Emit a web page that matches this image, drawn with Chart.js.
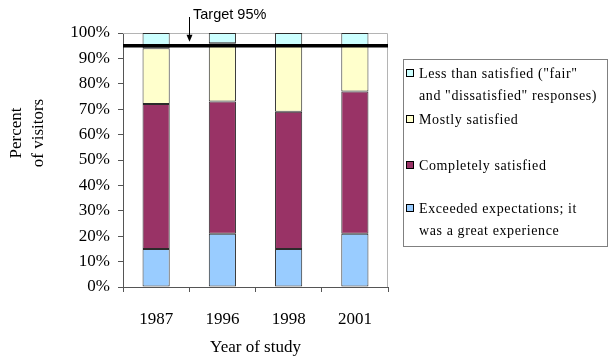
<!DOCTYPE html>
<html>
<head>
<meta charset="utf-8">
<script src="https://cdn.jsdelivr.net/npm/chart.js@4.4.1/dist/chart.umd.min.js"></script>
<style>
  html, body { margin: 0; padding: 0; background: #fff; }
  #wrap { width: 610px; height: 362px; position: relative; }
</style>
</head>
<body>
<div id="wrap"><canvas id="c" width="610" height="362"></canvas></div>
<script>
// Survey years
const years = ['1987', '1996', '1998', '2001'];

// Share of visitors in each response group (percent), bottom of stack first
const exceeded   = [15, 21, 15, 21];
const completely = [57, 52, 54, 56];
const mostly     = [22, 23, 26, 18];
const lessThan   = [6, 4, 5, 5];

// Series names (legend lines)
const seriesNames = [
  ['Exceeded expectations; it', 'was a great experience'],
  ['Completely satisfied'],
  ['Mostly satisfied'],
  ['Less than satisfied ("fair"', 'and "dissatisfied" responses)']
];

// Target share of satisfied visitors
const targetValue = 95;
const targetLabel = 'Target 95%';

// Axis text
const yTicks = [0, 10, 20, 30, 40, 50, 60, 70, 80, 90, 100];
const yTitle = ['Percent', 'of visitors'];
const xTitle = 'Year of study';

const colors = ['#99CCFF', '#993366', '#FFFFCC', '#CCFFFF'];
const seriesData = [exceeded, completely, mostly, lessThan];

const serif = '"Liberation Serif", "Times New Roman", serif';
const sans = '"Liberation Sans", Arial, sans-serif';

const datasets = seriesData.map((d, i) => ({
  label: seriesNames[i].join(' '),
  data: d,
  backgroundColor: colors[i],
  borderColor: '#2b2b2b',
  borderWidth: 1,
  borderSkipped: false,
  categoryPercentage: 1.0,
  barPercentage: 0.41
}));

// Plot frame (top and right edges) in light grey
const frame = {
  id: 'frame',
  beforeDatasetsDraw(chart) {
    const { ctx, chartArea: a } = chart;
    ctx.save();
    ctx.strokeStyle = '#b4b4b4';
    ctx.lineWidth = 1;
    ctx.beginPath();
    ctx.moveTo(a.left, a.top + 0.5);
    ctx.lineTo(a.right - 0.5, a.top + 0.5);
    ctx.lineTo(a.right - 0.5, a.bottom);
    ctx.stroke();
    ctx.restore();
  }
};

// Vertical axis title, two lines, set a little above the plot's middle
const yAxisTitle = {
  id: 'yAxisTitle',
  afterDraw(chart) {
    const { ctx } = chart;
    ctx.save();
    ctx.translate(28, 133);
    ctx.rotate(-Math.PI / 2);
    ctx.font = '17px ' + serif;
    ctx.fillStyle = '#000';
    ctx.textAlign = 'center';
    ctx.textBaseline = 'middle';
    ctx.fillText(yTitle[0], 0, -11);
    ctx.fillText(yTitle[1], 0, 11);
    ctx.restore();
  }
};

// Target line with its arrow and caption
const target = {
  id: 'target',
  afterDatasetsDraw(chart) {
    const { ctx, chartArea: a, scales } = chart;
    const y = scales.y.getPixelForValue(targetValue);
    ctx.save();
    ctx.strokeStyle = '#000';
    ctx.lineWidth = 3.5;
    ctx.beginPath();
    ctx.moveTo(a.left, y);
    ctx.lineTo(a.right, y);
    ctx.stroke();

    const ax = Math.round((scales.x.getPixelForValue(0) + scales.x.getPixelForValue(1)) / 2) + 0.5;
    const tipY = y - 4;
    ctx.lineWidth = 1;
    ctx.beginPath();
    ctx.moveTo(ax, 17);
    ctx.lineTo(ax, tipY - 5);
    ctx.stroke();
    ctx.fillStyle = '#000';
    ctx.beginPath();
    ctx.moveTo(ax - 3, tipY - 7);
    ctx.lineTo(ax + 3, tipY - 7);
    ctx.lineTo(ax, tipY);
    ctx.closePath();
    ctx.fill();

    ctx.font = '14.5px ' + sans;
    ctx.textBaseline = 'alphabetic';
    ctx.textAlign = 'left';
    ctx.fillText(targetLabel, ax + 3.5, 19);
    ctx.restore();
  }
};

// Boxed legend on the right, top series first
const sideLegend = {
  id: 'sideLegend',
  afterDraw(chart) {
    const { ctx } = chart;
    const box = { x: 403, y: 59, w: 204, h: 187 };
    const rowY = [73, 119, 165, 208];
    const lineGap = 22;
    ctx.save();
    ctx.strokeStyle = '#808080';
    ctx.lineWidth = 1;
    ctx.strokeRect(box.x + 0.5, box.y + 0.5, box.w, box.h);
    ctx.font = '14px ' + serif;
    ctx.letterSpacing = '0.6px';
    ctx.textBaseline = 'middle';
    ctx.textAlign = 'left';
    const ds = chart.data.datasets;
    for (let r = 0; r < ds.length; r++) {
      const i = ds.length - 1 - r;
      const cy = rowY[r];
      ctx.fillStyle = ds[i].backgroundColor;
      ctx.fillRect(406, cy - 4, 8, 8);
      ctx.strokeStyle = '#000';
      ctx.strokeRect(406.5, cy - 3.5, 7, 7);
      ctx.fillStyle = '#000';
      seriesNames[i].forEach((line, k) => {
        ctx.fillText(line, 419, cy + k * lineGap + 1);
      });
    }
    ctx.restore();
  }
};

new Chart(document.getElementById('c'), {
  type: 'bar',
  data: { labels: years, datasets },
  options: {
    responsive: false,
    animation: false,
    devicePixelRatio: 1,
    layout: { padding: { top: 33, right: 222, bottom: 4, left: 0 } },
    plugins: {
      legend: { display: false },
      tooltip: { enabled: false }
    },
    scales: {
      x: {
        stacked: true,
        grid: { drawOnChartArea: false, tickLength: 5, color: '#555', offset: true },
        border: { color: '#555', width: 1 },
        ticks: { color: '#000', font: { family: serif, size: 17 }, padding: 17 },
        title: {
          display: true, text: xTitle, color: '#000',
          font: { family: serif, size: 17 }, padding: { top: 6, bottom: 0 }
        },
        afterFit(s) { s.height = 71; }
      },
      y: {
        stacked: true,
        min: 0, max: 100,
        afterBuildTicks(s) { s.ticks = yTicks.map(v => ({ value: v })); },
        grid: { drawOnChartArea: false, tickLength: 5, color: '#555' },
        border: { color: '#555', width: 1 },
        ticks: {
          color: '#000', font: { family: serif, size: 17 }, padding: 8,
          callback: v => v + '%'
        },
        title: { display: false },
        afterFit(s) { s.width = 123; }
      }
    }
  },
  plugins: [frame, yAxisTitle, target, sideLegend]
});
</script>
</body>
</html>
